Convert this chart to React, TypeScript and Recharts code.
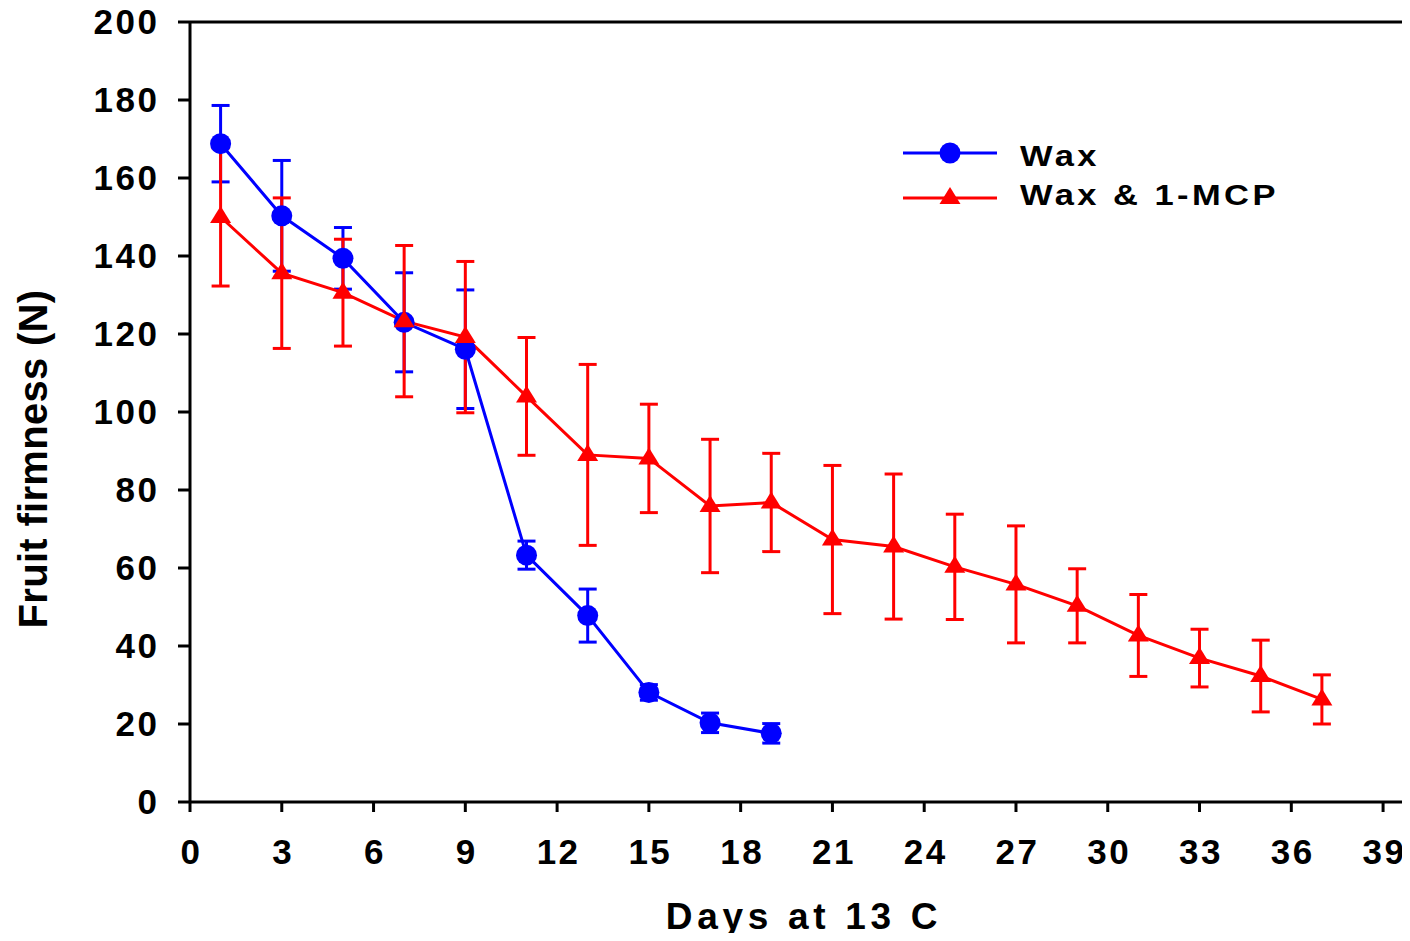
import React from 'react';
import { LineChart, Line, XAxis, YAxis, ErrorBar, ReferenceLine, Legend, Label } from 'recharts';

const seriesNames = ['Wax', 'Wax & 1-MCP'];
const seriesColors = ['#0000FF', '#FF0000'];

const waxDays = [1, 3, 5, 7, 9, 11, 13, 15, 17, 19];
const waxFirmness = [168.8, 150.3, 139.4, 123.0, 116.1, 63.3, 47.8, 28.1, 20.3, 17.6];
const waxError = [9.8, 14.2, 7.9, 12.7, 15.2, 3.6, 6.8, 2.0, 2.5, 2.5];

const mcpDays = [1, 3, 5, 7, 9, 11, 13, 15, 17, 19, 21, 23, 25, 27, 29, 31, 33, 35, 37];
const mcpFirmness = [150.0, 135.6, 130.6, 123.3, 119.2, 104.0, 89.0, 88.1, 75.9, 76.8, 67.3, 65.5, 60.3, 55.8, 50.3, 42.7, 36.9, 32.3, 26.3];
const mcpError = [17.7, 19.3, 13.7, 19.4, 19.4, 15.1, 23.2, 13.9, 17.1, 12.6, 19.0, 18.6, 13.5, 15.0, 9.5, 10.5, 7.4, 9.2, 6.3];

const xTicks = [0, 3, 6, 9, 12, 15, 18, 21, 24, 27, 30, 33, 36, 39];
const yTicks = [0, 20, 40, 60, 80, 100, 120, 140, 160, 180, 200];

const xLabel = 'Days at 13 C';
const yLabel = 'Fruit firmness (N)';

const waxData = waxDays.map((d, i) => ({ day: d, firmness: waxFirmness[i], err: waxError[i] }));
const mcpData = mcpDays.map((d, i) => ({ day: d, firmness: mcpFirmness[i], err: mcpError[i] }));

const FONT = '"Liberation Sans", Arial, Helvetica, sans-serif';

const XTick = (props: any) => {
  const { x, y, payload } = props;
  return (
    <text x={x + 1.5} y={y + 52} textAnchor="middle" fill="#000" fontSize={35} fontWeight="bold"
      fontFamily={FONT} letterSpacing={2.5}>
      {payload.value}
    </text>
  );
};

const YTick = (props: any) => {
  const { x, y, payload } = props;
  return (
    <text x={x - 18.5} y={y + 12.4} textAnchor="end" fill="#000" fontSize={35} fontWeight="bold"
      fontFamily={FONT} letterSpacing={2.5}>
      {payload.value}
    </text>
  );
};

const triangle = (cx: number, cy: number) =>
  `${cx},${cy - 11} ${cx + 10.5},${cy + 6} ${cx - 10.5},${cy + 6}`;

const TriangleDot = (props: any) => {
  const { cx, cy, index } = props;
  if (cx == null || cy == null) return <g key={`t-${index}`} />;
  return <polygon key={`t-${index}`} points={triangle(cx, cy)} fill={seriesColors[1]} stroke="none" />;
};

const renderLegend = () => (
  <svg width={440} height={110} style={{ display: 'block', overflow: 'visible' }}>
    <line x1={15} y1={35} x2={109} y2={35} stroke={seriesColors[0]} strokeWidth={3} />
    <circle cx={62} cy={35} r={10.5} fill={seriesColors[0]} />
    <text transform="translate(132,48) scale(1.15,1)" x={0} y={0} fontSize={30} fontWeight="bold"
      fontFamily={FONT} letterSpacing={3} fill="#000">{seriesNames[0]}</text>
    <line x1={15} y1={80} x2={109} y2={80} stroke={seriesColors[1]} strokeWidth={3} />
    <polygon points={triangle(62, 80)} fill={seriesColors[1]} />
    <text transform="translate(132,87) scale(1.15,1)" x={0} y={0} fontSize={30} fontWeight="bold"
      fontFamily={FONT} letterSpacing={3} fill="#000">{seriesNames[1]}</text>
  </svg>
);

export default function App() {
  return (
    <div style={{ width: 1402, height: 941, marginTop: -8, marginBottom: -8 }}>
      <LineChart width={1402} height={941} margin={{ top: 22, right: 0, bottom: 0, left: 0 }}>
        <XAxis
          type="number"
          dataKey="day"
          domain={[0, 39.88]}
          ticks={xTicks}
          height={139}
          tickSize={10}
          tickMargin={0}
          axisLine={{ stroke: '#000', strokeWidth: 3 }}
          tickLine={{ stroke: '#000', strokeWidth: 3 }}
          tick={<XTick />}
          interval={0}
          allowDataOverflow
        >
          <Label
            content={() => (
              <text x={796} y={929} textAnchor="middle" fill="#000" fontSize={37} fontWeight="bold"
                fontFamily={FONT} letterSpacing={4.7}>{xLabel}</text>
            )}
          />
        </XAxis>
        <YAxis
          type="number"
          domain={[0, 200]}
          ticks={yTicks}
          width={182}
          tickSize={12}
          tickMargin={0}
          axisLine={{ stroke: '#000', strokeWidth: 3 }}
          tickLine={{ stroke: '#000', strokeWidth: 3 }}
          tick={<YTick />}
          interval={0}
        >
          <Label
            content={() => (
              <text x={39} y={459} transform="rotate(-90,39,459)" textAnchor="middle" fill="#000"
                fontSize={40} fontWeight="bold" fontFamily={FONT} letterSpacing={0.3}>{yLabel}</text>
            )}
          />
        </YAxis>
        <ReferenceLine y={200} stroke="#000" strokeWidth={3} />
        <Line
          data={waxData}
          dataKey="firmness"
          name={seriesNames[0]}
          stroke={seriesColors[0]}
          strokeWidth={3}
          dot={{ r: 10.5, fill: seriesColors[0], stroke: 'none', strokeWidth: 0 }}
          activeDot={false}
          isAnimationActive={false}
        >
          <ErrorBar dataKey="err" direction="y" width={9} stroke={seriesColors[0]} strokeWidth={3} isAnimationActive={false} />
        </Line>
        <Line
          data={mcpData}
          dataKey="firmness"
          name={seriesNames[1]}
          stroke={seriesColors[1]}
          strokeWidth={3}
          dot={(p: any) => <TriangleDot {...p} />}
          activeDot={false}
          isAnimationActive={false}
        >
          <ErrorBar dataKey="err" direction="y" width={9} stroke={seriesColors[1]} strokeWidth={3} isAnimationActive={false} />
        </Line>
        <Legend
          layout="vertical"
          align="center"
          verticalAlign="middle"
          content={renderLegend}
          wrapperStyle={{ left: 880, top: 118, width: 440, height: 110 }}
        />
      </LineChart>
    </div>
  );
}
